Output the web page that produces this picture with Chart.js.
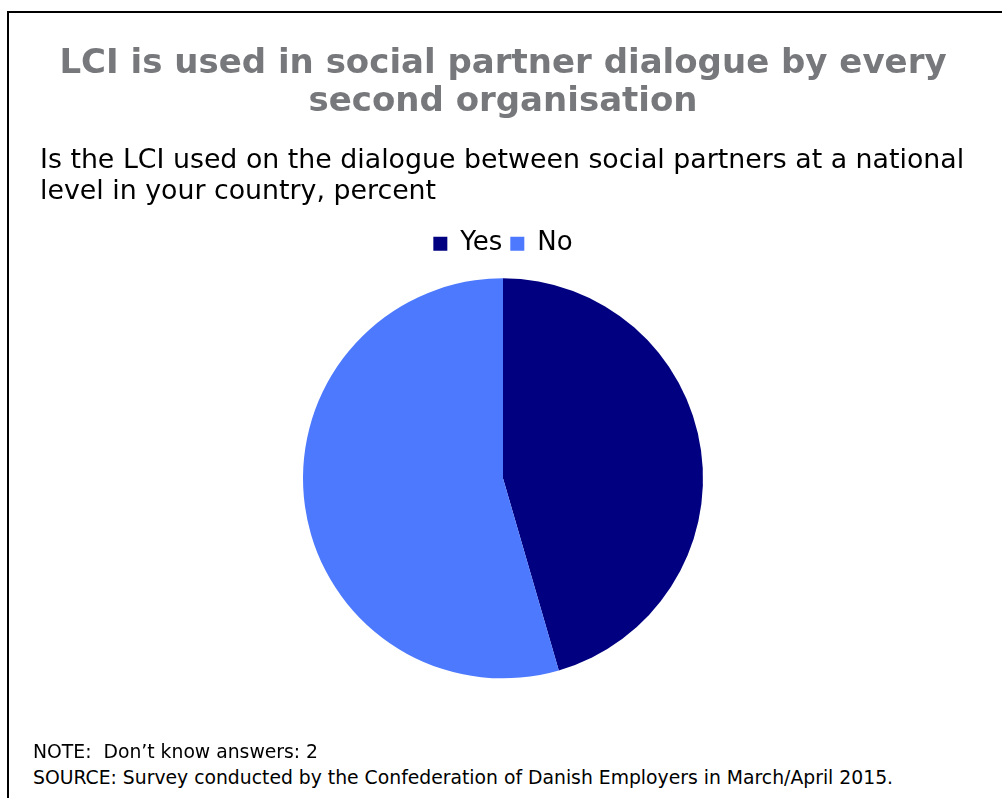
<!DOCTYPE html>
<html>
<head>
<meta charset="utf-8">
<script src="https://cdn.jsdelivr.net/npm/chart.js@4"></script>
<style>
  html, body { margin: 0; padding: 0; background: #fff; }
  #frame {
    position: absolute; left: 7px; top: 11px; width: 995px; height: 787px;
    border-top: 2px solid #000; border-left: 2px solid #000; box-sizing: border-box;
  }
  #chart { position: absolute; left: 0; top: 0; }
  .note {
    position: absolute; left: 24px; font-family: 'DejaVu Sans', Verdana, sans-serif;
    font-size: 18.8px; color: #000; white-space: nowrap;
  }
</style>
</head>
<body>
<div id="frame">
  <canvas id="chart" width="993" height="730"></canvas>
  <div class="note" style="top:728px">NOTE:&nbsp;&nbsp;Don’t know answers: 2</div>
  <div class="note" style="top:754px">SOURCE: Survey conducted by the Confederation of Danish Employers in March/April 2015.</div>
</div>
<script>
// ===== DATA =====
const categories = ['Yes', 'No'];
const shares = [45.5, 54.5];
const sliceColors = ['#000080', '#4D79FF'];

const titleLines = ['LCI is used in social partner dialogue by every', 'second organisation'];
const subtitleLines = ['Is the LCI used on the dialogue between social partners at a national', 'level in your country, percent'];

const FONT = "'DejaVu Sans', Verdana, sans-serif";

// ===== PIE =====
const ctx = document.getElementById('chart').getContext('2d');
new Chart(ctx, {
  type: 'pie',
  data: {
    labels: categories,
    datasets: [{
      data: shares,
      backgroundColor: sliceColors,
      borderWidth: 0,
      radius: 200,
    }]
  },
  options: {
    responsive: false,
    animation: false,
    rotation: 0,
    layout: { padding: { left: 31, right: 36, top: 0, bottom: 53 } },
    plugins: {
      title: {
        display: true,
        text: titleLines,
        color: '#77787B',
        font: { family: FONT, size: 34, weight: 'bold', lineHeight: 1.12 },
        padding: { top: 32, bottom: 25 },
      },
      subtitle: {
        display: true,
        text: subtitleLines,
        align: 'start',
        color: '#000',
        font: { family: FONT, size: 26.8, lineHeight: 1.13 },
        padding: { top: 0, bottom: 16 },
      },
      legend: {
        position: 'top',
        labels: {
          color: '#000',
          font: { family: FONT, size: 26 },
          boxWidth: 14,
          boxHeight: 14,
          padding: 8,
        }
      },
      tooltip: { enabled: false },
    }
  }
});
</script>
</body>
</html>
